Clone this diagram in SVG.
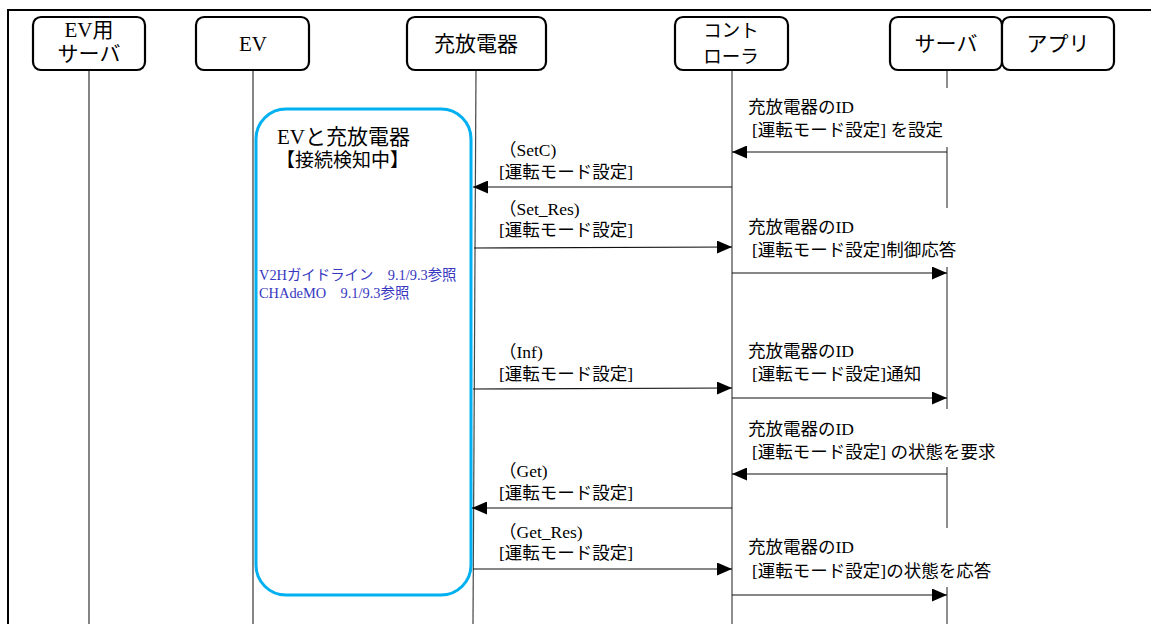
<svg xmlns="http://www.w3.org/2000/svg" width="1151" height="624" viewBox="0 0 1151 624">
<defs>
<style>
text{font-family:"Liberation Serif","Noto Sans CJK JP",serif;fill:#000}
.node{fill:#fff;stroke:#000;stroke-width:2.2}
.nt{font-size:21px;text-anchor:middle}
.nt2{font-size:18.5px;text-anchor:middle}
.ll{stroke:#666;stroke-width:1.6;fill:none}
.llt{stroke:#444;stroke-width:1.2;fill:none}
.msg{stroke:#111;stroke-width:1.2;fill:none;marker-end:url(#ah)}
.lb{font-size:17.5px}
.blue{font-size:14.4px;fill:#3737c0}
</style>
<marker id="ah" viewBox="0 0 15 13" refX="15" refY="6.5" markerWidth="15" markerHeight="13" markerUnits="userSpaceOnUse" orient="auto">
<path d="M0,0 L15,6.5 L0,13 Z" fill="#000"/>
</marker>
</defs>
<rect width="1151" height="624" fill="#fff"/>
<path d="M8,624 V10 H1151" fill="none" stroke="#000" stroke-width="2"/>

<g id="lifelines">
<line class="ll" x1="89" y1="70" x2="89" y2="624" stroke-width="2"/>
<line class="ll" x1="253" y1="70" x2="253" y2="624" stroke-width="2"/>
<line class="llt" x1="476" y1="70" x2="473" y2="624"/>
<line class="llt" x1="732" y1="70" x2="732" y2="624"/>
<path class="llt" d="M947,70 V88 M947,147 V208 M947,267 V409 M947,467 V528 M947,587 V624"/>
</g>

<g id="ev-server"><rect class="node" x="33" y="17" width="112" height="53" rx="8"/><text class="nt" x="89" y="37">EV用</text><text class="nt" x="89" y="61">サーバ</text></g>
<g id="ev"><rect class="node" x="196" y="17" width="113" height="53" rx="8"/><text class="nt" x="253" y="51">EV</text></g>
<g id="charger"><rect class="node" x="407" y="17" width="139" height="53" rx="8"/><text class="nt" x="476" y="51">充放電器</text></g>
<g id="controller"><rect class="node" x="675" y="17" width="113" height="53" rx="8"/><text class="nt2" x="731" y="37">コント</text><text class="nt2" x="731" y="63">ローラ</text></g>
<g id="server"><rect class="node" x="890" y="17" width="112" height="53" rx="8"/><text class="nt" x="946" y="51">サーバ</text></g>
<g id="app"><rect class="node" x="1002" y="17" width="112" height="53" rx="8"/><text class="nt" x="1058" y="51">アプリ</text></g>

<g id="connection-box">
<rect x="256" y="109" width="215" height="486" rx="30" fill="#fff" stroke="#00b0f0" stroke-width="3"/>
<text x="277" y="144" font-size="21px">EVと充放電器</text>
<text x="276" y="167" font-size="19px">【接続検知中】</text>
<text class="blue" x="259" y="280">V2Hガイドライン　9.1/9.3参照</text>
<text class="blue" x="259" y="298">CHAdeMO　9.1/9.3参照</text>
</g>

<g id="connectors">
<line class="msg" x1="947" y1="152" x2="732" y2="152"/>
<line class="msg" x1="732" y1="187" x2="473" y2="187"/>
<line class="msg" x1="474" y1="248" x2="732" y2="247"/>
<line class="msg" x1="732" y1="273" x2="947" y2="273"/>
<line class="msg" x1="473" y1="389" x2="732" y2="388"/>
<line class="msg" x1="732" y1="398" x2="947" y2="398"/>
<line class="msg" x1="947" y1="474" x2="732" y2="474"/>
<line class="msg" x1="732" y1="508" x2="472" y2="508"/>
<line class="msg" x1="473" y1="569" x2="732" y2="569"/>
<line class="msg" x1="732" y1="595" x2="947" y2="595"/>
</g>

<g id="labels">
<text class="lb" x="748" y="113">充放電器のID</text>
<text class="lb" x="752" y="136">[運転モード設定] を設定</text>
<text class="lb" x="499" y="156">（SetC)</text>
<text class="lb" x="499" y="178">[運転モード設定]</text>
<text class="lb" x="499" y="215">（Set_Res)</text>
<text class="lb" x="499" y="236">[運転モード設定]</text>
<text class="lb" x="748" y="233">充放電器のID</text>
<text class="lb" x="752" y="256">[運転モード設定]制御応答</text>
<text class="lb" x="499" y="358">（Inf)</text>
<text class="lb" x="499" y="380">[運転モード設定]</text>
<text class="lb" x="748" y="357">充放電器のID</text>
<text class="lb" x="752" y="380">[運転モード設定]通知</text>
<text class="lb" x="748" y="435">充放電器のID</text>
<text class="lb" x="752" y="458">[運転モード設定] の状態を要求</text>
<text class="lb" x="499" y="477">（Get)</text>
<text class="lb" x="499" y="499">[運転モード設定]</text>
<text class="lb" x="499" y="538">（Get_Res)</text>
<text class="lb" x="499" y="559">[運転モード設定]</text>
<text class="lb" x="748" y="553">充放電器のID</text>
<text class="lb" x="752" y="577">[運転モード設定]の状態を応答</text>
</g>
</svg>
